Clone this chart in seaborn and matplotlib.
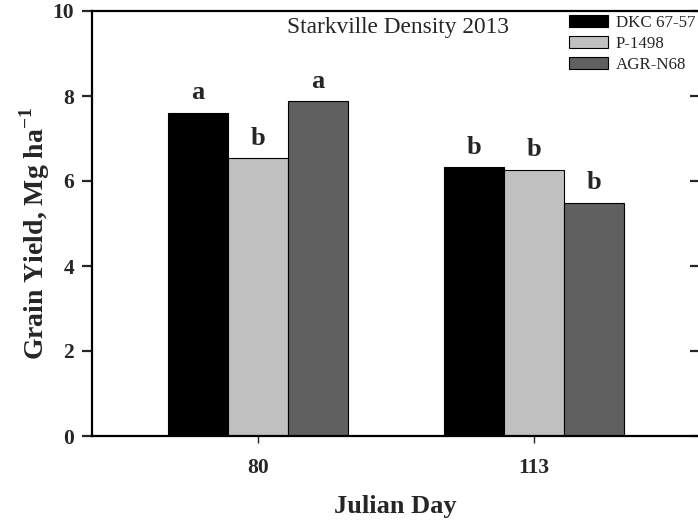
import matplotlib
matplotlib.use("Agg")
import matplotlib.pyplot as plt
import seaborn as sns
import pandas as pd

# Grain yield by planting date (Julian day) and hybrid
days = ["80", "113"]
hybrids = ["DKC 67-57", "P-1498", "AGR-N68"]
yield_dkc = [7.61, 6.32]
yield_p1498 = [6.53, 6.27]
yield_agr = [7.88, 5.49]
letters_dkc = ["a", "b"]
letters_p1498 = ["b", "b"]
letters_agr = ["a", "b"]
colors = ["#000000", "#c0c0c0", "#606060"]

rows = []
for hyb, vals, lets in zip(hybrids,
                           [yield_dkc, yield_p1498, yield_agr],
                           [letters_dkc, letters_p1498, letters_agr]):
    for d, v, l in zip(days, vals, lets):
        rows.append({"day": d, "hybrid": hyb, "yield": v, "letter": l})
df = pd.DataFrame(rows)

sns.set_style("ticks")
plt.rcParams["font.family"] = ["Liberation Serif", "DejaVu Serif"]
plt.rcParams["mathtext.fontset"] = "custom"
plt.rcParams["mathtext.rm"] = "Liberation Serif"
plt.rcParams["mathtext.bf"] = "Liberation Serif:bold"

W, H = 698, 525
fig = plt.figure(figsize=(W / 100, H / 100), dpi=100)
ax = fig.add_axes([92 / W, 1 - 436 / H, 608 / W, 425 / H])

sns.barplot(data=df, x="day", y="yield", hue="hybrid", order=days,
            hue_order=hybrids, palette=colors, width=0.65, saturation=1,
            edgecolor="black", linewidth=0.8, ax=ax, legend=False)

ax.set_xlim(-0.6, 1.6)
ax.set_ylim(0, 10)
ax.set_yticks([0, 2, 4, 6, 8, 10])
ax.set_xlabel("")
ax.set_ylabel("")

for side in ["left", "bottom", "top"]:
    ax.spines[side].set_linewidth(1.6)
    ax.spines[side].set_color("black")
ax.spines["right"].set_visible(False)

ax.tick_params(axis="y", which="major", direction="out", length=7, width=1.6,
               labelsize=15.5, pad=6, right=True)
ax.tick_params(axis="x", which="major", direction="out", length=5, width=1,
               labelsize=15.5, pad=11)
for lab in ax.get_xticklabels() + ax.get_yticklabels():
    lab.set_fontweight("bold")

# Right-side ticks point into the plot area
for t in ax.yaxis.get_major_ticks():
    t.tick2line.set_marker(matplotlib.markers.TICKLEFT)
    t.tick2line.set_markersize(7)
    t.tick2line.set_markeredgewidth(1.6)

# Mean-separation letters above each bar
for bars, hyb in zip(ax.containers, hybrids):
    sub = df[df["hybrid"] == hyb].set_index("day").loc[days]
    for rect, (val, let) in zip(bars, zip(sub["yield"], sub["letter"])):
        ax.annotate(let, (rect.get_x() + rect.get_width() / 2, val),
                    xytext=(0, 6), textcoords="offset points",
                    ha="center", va="bottom", fontsize=19, fontweight="bold")

fig.text(398 / W, 1 - 27 / H, "Starkville Density 2013", ha="center",
         va="center", fontsize=16.8)
fig.text(395 / W, 1 - 507 / H, "Julian Day", ha="center", va="center",
         fontsize=19, fontweight="bold")
fig.text(35 / W, 1 - 233 / H, r"Grain Yield, Mg ha$^{\mathbf{-1}}$",
         rotation=90, ha="center", va="center", fontsize=20,
         fontweight="bold")

handles = [matplotlib.patches.Patch(facecolor=c, edgecolor="black",
                                    linewidth=0.8) for c in colors]
ax.legend(handles, hybrids, loc="upper left",
          bbox_to_anchor=(569 / W, 1 - 15 / H), bbox_transform=fig.transFigure,
          frameon=False, fontsize=12.2, handlelength=2.3, handleheight=0.72,
          handletextpad=0.45, labelspacing=0.3, borderpad=0, borderaxespad=0)

fig.savefig("out.png", dpi=100)
